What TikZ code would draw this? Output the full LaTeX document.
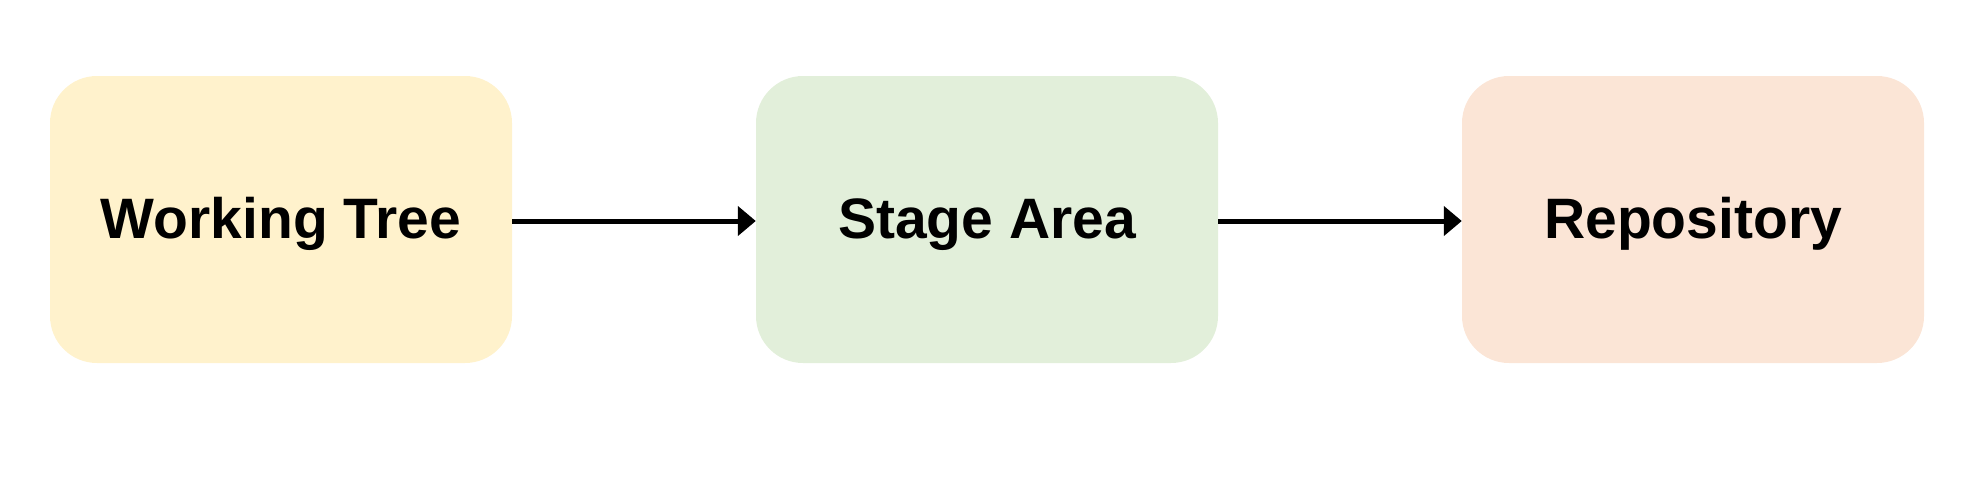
\documentclass[tikz,border=0pt]{standalone}
\usepackage{fontspec}
\setmainfont{Liberation Sans}
\usetikzlibrary{arrows.meta}
\definecolor{cyellow}{HTML}{FFF2CC}
\definecolor{cgreen}{HTML}{E2EFDA}
\definecolor{cpeach}{HTML}{FBE5D6}
\tikzset{
  stagebox/.style={rounded corners=47pt, minimum width=462pt, minimum height=287pt, inner sep=0pt,
    text height=43pt, text depth=6pt,
    font=\fontsize{57pt}{68pt}\selectfont\bfseries, text=black},
  flow/.style={line width=5pt, -{Triangle[length=18pt,width=29pt]}}
}
\begin{document}
\begin{tikzpicture}[x=1pt,y=-1pt]
\useasboundingbox (0,0) rectangle (1988,480);
\node[stagebox, fill=cyellow] (wt) at (281,219.5) {Working Tree};
\node[stagebox, fill=cgreen] (sa) at (987,219.5) {Stage Area};
\node[stagebox, fill=cpeach] (rp) at (1693,219.5) {Repository};
\draw[flow] ([yshift=-1.5pt]wt.east) -- ([yshift=-1.5pt]sa.west);
\draw[flow] ([yshift=-1.5pt]sa.east) -- ([yshift=-1.5pt]rp.west);
\end{tikzpicture}
\end{document}
